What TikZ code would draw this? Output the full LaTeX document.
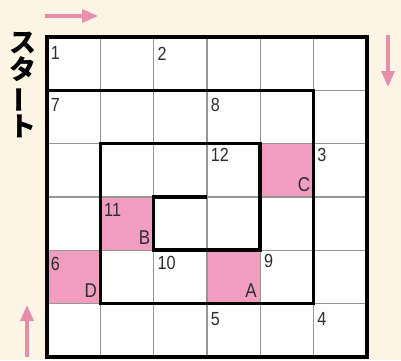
\documentclass[tikz,border=0pt]{standalone}
\usepackage{fontspec}
\usepackage{graphicx}
\usetikzlibrary{arrows.meta}
\setmainfont{Liberation Sans}
\newfontfamily\jpfont{Noto Sans CJK JP}
\newfontfamily\numfont{Liberation Sans}[FakeStretch=0.85]
\newcommand\startfont{\jpfont\bfseries\fontsize{27}{27}\selectfont}
\definecolor{cream}{HTML}{FDF5E3}
\definecolor{cellpink}{HTML}{F09DC0}
\definecolor{arrowpink}{HTML}{E68FAD}
\definecolor{gridgray}{HTML}{9A9593}
\definecolor{numgray}{HTML}{2E2E2E}
\begin{document}
\begin{tikzpicture}[x=1pt,y=-1pt,
        num/.style={font=\numfont\fontsize{19}{19}\selectfont, text=numgray, inner sep=0pt, anchor=north west},
        letter/.style={font=\numfont\fontsize{20}{20}\selectfont, text=numgray, inner sep=0pt, anchor=south east},
        pinkarrow/.style={arrowpink, line width=3.4pt, -{Triangle[length=16pt,width=13pt]}}]
        \fill[cream] (0,0) rectangle (401,360);
        \begin{scope}[xshift=47pt, yshift=-37pt, x=53.3pt, y=-53.3pt]
        \fill[white] (0,0) rectangle (6,6);
        \foreach \c/\r in {4/2,1/3,0/4,3/4} \fill[cellpink] (\c,\r) rectangle ++(1,1);
        \foreach \i in {1,...,5} \draw[gridgray, line width=1.4pt] (\i,0) -- (\i,6) (0,\i) -- (6,\i);
        \draw[line width=3.5pt] (0,0) rectangle (6,6);
        \draw[line width=3.5pt] (0,1) -- (5,1) -- (5,5) -- (1,5) -- (1,2) -- (4,2) -- (4,4) -- (2,4) -- (2,3) -- (3,3);
        \foreach \n/\c/\r/\dy in {1/0/0/0.18,2/2/0/0.18,3/5/2/0.08,4/5/5/0.16,5/3/5/0.16,6/0/4/0.12,7/0/1/0.15,8/3/1/0.15,9/4/4/0.08,10/2/4/0.11,11/1/3/0.11,12/3/2/0.08}
            \node[num] (n\n) at (\c+0.07,\r+\dy) {\n};
        \foreach \l/\c/\r in {A/3/4,B/1/3,C/4/2,D/0/4}
            \node[letter] (cell\l) at (\c+0.94,\r+0.9) {\l};
        \end{scope}
        \node[font=\startfont, align=center, inner sep=0pt] (start) at (23,85) {ス\\タ\\\rotatebox[origin=c]{90}{ー}\\ト};
        \coordinate (topL) at (45,16);
        \coordinate (topR) at (98,16);
        \coordinate (rightT) at (388,35);
        \coordinate (rightB) at (388,87);
        \coordinate (leftB) at (27,357);
        \coordinate (leftT) at (27,305);
        \draw[pinkarrow] (topL) -- (topR);
        \draw[pinkarrow] (rightT) -- (rightB);
        \draw[pinkarrow] (leftB) -- (leftT);
    \end{tikzpicture}
\end{document}
